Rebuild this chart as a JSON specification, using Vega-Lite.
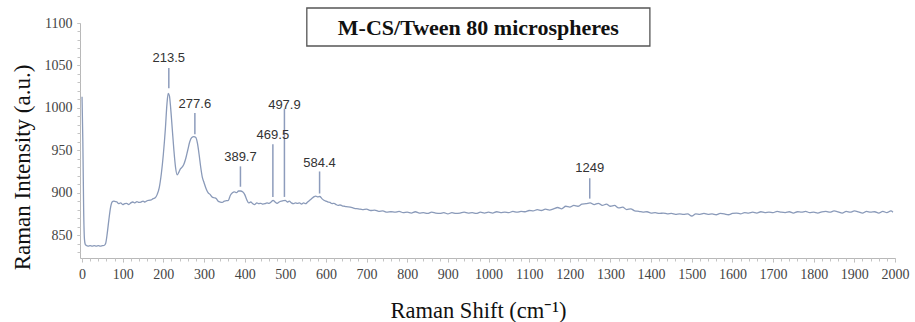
{
  "$schema": "https://vega.github.io/schema/vega-lite/v6.json",
  "autosize": "none",
  "width": 815,
  "height": 235,
  "padding": {"left": 80, "top": 23, "right": 20, "bottom": 64},
  "background": "white",
  "config": {"view": {"stroke": null}},
  "datasets": {
    "spectrum": [
      {"shift": 0, "intensity": 1013}, {"shift": 2, "intensity": 960}, {"shift": 4, "intensity": 880}, {"shift": 6, "intensity": 845}, {"shift": 8, "intensity": 839},
      {"shift": 10, "intensity": 838}, {"shift": 15, "intensity": 837}, {"shift": 20, "intensity": 837.5}, {"shift": 25, "intensity": 837}, {"shift": 30, "intensity": 837.5},
      {"shift": 35, "intensity": 837}, {"shift": 40, "intensity": 837.5}, {"shift": 45, "intensity": 837}, {"shift": 50, "intensity": 837.5}, {"shift": 55, "intensity": 838},
      {"shift": 58, "intensity": 840}, {"shift": 62, "intensity": 852}, {"shift": 66, "intensity": 868}, {"shift": 70, "intensity": 882}, {"shift": 74, "intensity": 889},
      {"shift": 78, "intensity": 890}, {"shift": 82, "intensity": 889.5}, {"shift": 86, "intensity": 889}, {"shift": 90, "intensity": 887}, {"shift": 95, "intensity": 888},
      {"shift": 100, "intensity": 886}, {"shift": 105, "intensity": 887}, {"shift": 110, "intensity": 887.5}, {"shift": 115, "intensity": 886}, {"shift": 120, "intensity": 888},
      {"shift": 125, "intensity": 889}, {"shift": 130, "intensity": 888}, {"shift": 135, "intensity": 889.5}, {"shift": 140, "intensity": 888.5}, {"shift": 145, "intensity": 889},
      {"shift": 150, "intensity": 890}, {"shift": 155, "intensity": 889}, {"shift": 160, "intensity": 890.5}, {"shift": 165, "intensity": 891}, {"shift": 170, "intensity": 891.5},
      {"shift": 175, "intensity": 893}, {"shift": 180, "intensity": 894}, {"shift": 185, "intensity": 898}, {"shift": 190, "intensity": 906}, {"shift": 195, "intensity": 922},
      {"shift": 200, "intensity": 945}, {"shift": 205, "intensity": 975}, {"shift": 209, "intensity": 1005}, {"shift": 212, "intensity": 1017}, {"shift": 215, "intensity": 1014},
      {"shift": 218, "intensity": 1000}, {"shift": 222, "intensity": 975}, {"shift": 226, "intensity": 950}, {"shift": 230, "intensity": 930}, {"shift": 234, "intensity": 921},
      {"shift": 238, "intensity": 924}, {"shift": 242, "intensity": 928}, {"shift": 246, "intensity": 930}, {"shift": 250, "intensity": 933}, {"shift": 255, "intensity": 940},
      {"shift": 260, "intensity": 950}, {"shift": 265, "intensity": 960}, {"shift": 270, "intensity": 965}, {"shift": 275, "intensity": 966}, {"shift": 280, "intensity": 965},
      {"shift": 284, "intensity": 958}, {"shift": 288, "intensity": 945}, {"shift": 292, "intensity": 930}, {"shift": 296, "intensity": 918}, {"shift": 300, "intensity": 912},
      {"shift": 305, "intensity": 905}, {"shift": 310, "intensity": 900}, {"shift": 315, "intensity": 898}, {"shift": 320, "intensity": 895}, {"shift": 325, "intensity": 894},
      {"shift": 330, "intensity": 893}, {"shift": 335, "intensity": 890}, {"shift": 340, "intensity": 889}, {"shift": 345, "intensity": 888.5}, {"shift": 350, "intensity": 890},
      {"shift": 355, "intensity": 890.5}, {"shift": 360, "intensity": 891}, {"shift": 365, "intensity": 897}, {"shift": 370, "intensity": 900}, {"shift": 375, "intensity": 901},
      {"shift": 380, "intensity": 900}, {"shift": 385, "intensity": 902}, {"shift": 390, "intensity": 902}, {"shift": 395, "intensity": 901}, {"shift": 400, "intensity": 898},
      {"shift": 405, "intensity": 892}, {"shift": 410, "intensity": 888}, {"shift": 415, "intensity": 889}, {"shift": 420, "intensity": 887}, {"shift": 425, "intensity": 886},
      {"shift": 430, "intensity": 888}, {"shift": 435, "intensity": 887}, {"shift": 440, "intensity": 887.5}, {"shift": 445, "intensity": 886.5}, {"shift": 450, "intensity": 887},
      {"shift": 455, "intensity": 888}, {"shift": 460, "intensity": 887.5}, {"shift": 465, "intensity": 889}, {"shift": 470, "intensity": 891}, {"shift": 475, "intensity": 889},
      {"shift": 480, "intensity": 887.5}, {"shift": 485, "intensity": 889}, {"shift": 490, "intensity": 890}, {"shift": 495, "intensity": 890.5}, {"shift": 500, "intensity": 891},
      {"shift": 505, "intensity": 889}, {"shift": 510, "intensity": 890}, {"shift": 515, "intensity": 888}, {"shift": 520, "intensity": 887}, {"shift": 525, "intensity": 888},
      {"shift": 530, "intensity": 887.5}, {"shift": 535, "intensity": 888}, {"shift": 540, "intensity": 886.5}, {"shift": 545, "intensity": 888}, {"shift": 550, "intensity": 887},
      {"shift": 555, "intensity": 889}, {"shift": 560, "intensity": 891}, {"shift": 565, "intensity": 893}, {"shift": 570, "intensity": 895}, {"shift": 575, "intensity": 896},
      {"shift": 580, "intensity": 895}, {"shift": 585, "intensity": 895.5}, {"shift": 590, "intensity": 893}, {"shift": 595, "intensity": 891}, {"shift": 600, "intensity": 890},
      {"shift": 605, "intensity": 889}, {"shift": 610, "intensity": 888.5}, {"shift": 615, "intensity": 887}, {"shift": 620, "intensity": 887.5}, {"shift": 625, "intensity": 886},
      {"shift": 630, "intensity": 885}, {"shift": 635, "intensity": 885.5}, {"shift": 640, "intensity": 884.5}, {"shift": 645, "intensity": 884}, {"shift": 650, "intensity": 883.5},
      {"shift": 660, "intensity": 883}, {"shift": 670, "intensity": 881.5}, {"shift": 680, "intensity": 881}, {"shift": 690, "intensity": 880}, {"shift": 700, "intensity": 880.5},
      {"shift": 710, "intensity": 879}, {"shift": 720, "intensity": 879.5}, {"shift": 730, "intensity": 878}, {"shift": 740, "intensity": 878.5}, {"shift": 750, "intensity": 877},
      {"shift": 760, "intensity": 877.5}, {"shift": 770, "intensity": 877}, {"shift": 780, "intensity": 878}, {"shift": 790, "intensity": 876.5}, {"shift": 800, "intensity": 877},
      {"shift": 810, "intensity": 876}, {"shift": 820, "intensity": 877.5}, {"shift": 830, "intensity": 876}, {"shift": 840, "intensity": 876.5}, {"shift": 850, "intensity": 875.5},
      {"shift": 860, "intensity": 877}, {"shift": 870, "intensity": 876}, {"shift": 880, "intensity": 875.5}, {"shift": 890, "intensity": 876.5}, {"shift": 900, "intensity": 875},
      {"shift": 910, "intensity": 876.5}, {"shift": 920, "intensity": 875.5}, {"shift": 930, "intensity": 876}, {"shift": 940, "intensity": 877}, {"shift": 950, "intensity": 876},
      {"shift": 960, "intensity": 876.5}, {"shift": 970, "intensity": 875.5}, {"shift": 980, "intensity": 877}, {"shift": 990, "intensity": 876}, {"shift": 1000, "intensity": 877},
      {"shift": 1010, "intensity": 876}, {"shift": 1020, "intensity": 877.5}, {"shift": 1030, "intensity": 876.5}, {"shift": 1040, "intensity": 877}, {"shift": 1050, "intensity": 876.5},
      {"shift": 1060, "intensity": 878}, {"shift": 1070, "intensity": 877}, {"shift": 1080, "intensity": 878}, {"shift": 1090, "intensity": 877.5}, {"shift": 1100, "intensity": 879},
      {"shift": 1110, "intensity": 878.5}, {"shift": 1120, "intensity": 880}, {"shift": 1130, "intensity": 879}, {"shift": 1140, "intensity": 880.5}, {"shift": 1150, "intensity": 879.5},
      {"shift": 1160, "intensity": 881}, {"shift": 1170, "intensity": 882.5}, {"shift": 1180, "intensity": 881}, {"shift": 1190, "intensity": 884}, {"shift": 1200, "intensity": 883},
      {"shift": 1210, "intensity": 885}, {"shift": 1220, "intensity": 884}, {"shift": 1230, "intensity": 886.5}, {"shift": 1240, "intensity": 887}, {"shift": 1250, "intensity": 888},
      {"shift": 1260, "intensity": 886}, {"shift": 1270, "intensity": 887.5}, {"shift": 1280, "intensity": 885}, {"shift": 1290, "intensity": 886.5}, {"shift": 1300, "intensity": 884},
      {"shift": 1310, "intensity": 885}, {"shift": 1320, "intensity": 882}, {"shift": 1330, "intensity": 883}, {"shift": 1340, "intensity": 880}, {"shift": 1350, "intensity": 881},
      {"shift": 1360, "intensity": 878.5}, {"shift": 1370, "intensity": 878}, {"shift": 1380, "intensity": 877}, {"shift": 1390, "intensity": 877.5}, {"shift": 1400, "intensity": 876},
      {"shift": 1410, "intensity": 876.5}, {"shift": 1420, "intensity": 875.5}, {"shift": 1430, "intensity": 876}, {"shift": 1440, "intensity": 875}, {"shift": 1450, "intensity": 875.5},
      {"shift": 1460, "intensity": 874.5}, {"shift": 1470, "intensity": 875}, {"shift": 1480, "intensity": 874.5}, {"shift": 1490, "intensity": 875}, {"shift": 1500, "intensity": 872.5},
      {"shift": 1510, "intensity": 875}, {"shift": 1520, "intensity": 874.5}, {"shift": 1530, "intensity": 875.5}, {"shift": 1540, "intensity": 874.5}, {"shift": 1550, "intensity": 875},
      {"shift": 1560, "intensity": 874}, {"shift": 1570, "intensity": 875.5}, {"shift": 1580, "intensity": 875}, {"shift": 1590, "intensity": 874}, {"shift": 1600, "intensity": 875.5},
      {"shift": 1610, "intensity": 876}, {"shift": 1620, "intensity": 875}, {"shift": 1630, "intensity": 876.5}, {"shift": 1640, "intensity": 876}, {"shift": 1650, "intensity": 877},
      {"shift": 1660, "intensity": 876}, {"shift": 1670, "intensity": 877.5}, {"shift": 1680, "intensity": 876.5}, {"shift": 1690, "intensity": 877}, {"shift": 1700, "intensity": 876.5},
      {"shift": 1710, "intensity": 878}, {"shift": 1720, "intensity": 877}, {"shift": 1730, "intensity": 876.5}, {"shift": 1740, "intensity": 877.5}, {"shift": 1750, "intensity": 876},
      {"shift": 1760, "intensity": 877.5}, {"shift": 1770, "intensity": 877}, {"shift": 1780, "intensity": 878}, {"shift": 1790, "intensity": 876.5}, {"shift": 1800, "intensity": 877},
      {"shift": 1810, "intensity": 876}, {"shift": 1820, "intensity": 877.5}, {"shift": 1830, "intensity": 878}, {"shift": 1840, "intensity": 877}, {"shift": 1850, "intensity": 878.5},
      {"shift": 1860, "intensity": 877.5}, {"shift": 1870, "intensity": 876}, {"shift": 1880, "intensity": 878}, {"shift": 1890, "intensity": 877}, {"shift": 1900, "intensity": 878.5},
      {"shift": 1910, "intensity": 877.5}, {"shift": 1920, "intensity": 876}, {"shift": 1930, "intensity": 878}, {"shift": 1940, "intensity": 877}, {"shift": 1950, "intensity": 877.5},
      {"shift": 1960, "intensity": 876}, {"shift": 1970, "intensity": 878}, {"shift": 1980, "intensity": 876.5}, {"shift": 1990, "intensity": 878.5}, {"shift": 1995, "intensity": 877}
    ],
    "peaks": [
      {"shift": 213.5, "label": "213.5", "labelAt": 1058.7, "top": 1047, "bottom": 1023},
      {"shift": 277.6, "label": "277.6", "labelAt": 1004.5, "top": 994, "bottom": 969},
      {"shift": 389.7, "label": "389.7", "labelAt": 942, "top": 931, "bottom": 907},
      {"shift": 469.5, "label": "469.5", "labelAt": 968, "top": 957, "bottom": 895},
      {"shift": 497.9, "label": "497.9", "labelAt": 1003, "top": 999, "bottom": 895},
      {"shift": 584.4, "label": "584.4", "labelAt": 935, "top": 925, "bottom": 899},
      {"shift": 1249, "label": "1249", "labelAt": 928.6, "top": 917, "bottom": 893}
    ],
    "caption": [
      {"x1": 553, "x2": 1397, "y1": 1117.7, "y2": 1072.9, "xm": 975, "ym": 1094, "text": "M-CS/Tween 80 microspheres"}
    ]
  },
  "resolve": {"axis": {"x": "independent", "y": "independent"}},
  "layer": [
    {
      "data": {"name": "spectrum"},
      "mark": {"type": "line", "color": "#8a9ab9", "strokeWidth": 1.3, "interpolate": "monotone"},
      "encoding": {
        "x": {
          "field": "shift", "type": "quantitative",
          "scale": {"domain": [-5, 2000], "nice": false, "zero": false},
          "axis": {
            "orient": "bottom",
            "values": [0, 100, 200, 300, 400, 500, 600, 700, 800, 900, 1000, 1100, 1200, 1300, 1400, 1500, 1600, 1700, 1800, 1900, 2000],
            "format": "d", "grid": false, "labelFlush": false, "labelOverlap": false,
            "labelFont": "Liberation Serif", "labelFontSize": 14, "labelColor": "#444", "labelPadding": 5,
            "domainColor": "#b8b8b8", "tickColor": "#b8b8b8", "tickSize": 4,
            "title": "Raman Shift (cm⁻¹)",
            "titleFont": "Liberation Serif", "titleFontSize": 22.5, "titleFontWeight": "normal", "titleColor": "#111",
            "titleX": 398, "titleY": 52, "titleAlign": "center", "titleBaseline": "middle"
          }
        },
        "y": {
          "field": "intensity", "type": "quantitative",
          "scale": {"domain": [823, 1100], "nice": false, "zero": false},
          "axis": {
            "orient": "left",
            "values": [850, 900, 950, 1000, 1050, 1100],
            "format": "d", "grid": false, "labelFlush": false, "labelOverlap": false,
            "labelFont": "Liberation Serif", "labelFontSize": 14, "labelColor": "#444", "labelPadding": 5,
            "domainColor": "#b8b8b8", "tickColor": "#b8b8b8", "tickSize": 3,
            "title": "Raman Intensity (a.u.)",
            "titleFont": "Liberation Serif", "titleFontSize": 23, "titleFontWeight": "normal", "titleColor": "#111",
            "titleAngle": 270, "titleX": -58, "titleY": 144, "titleAlign": "center", "titleBaseline": "middle"
          }
        }
      }
    },
    {
      "data": {"name": "peaks"},
      "mark": {"type": "rule", "color": "#8d9cbc", "strokeWidth": 1.5},
      "encoding": {
        "x": {
          "field": "shift", "type": "quantitative",
          "axis": {
            "orient": "bottom",
            "values": [0, 20, 40, 60, 80, 100, 120, 140, 160, 180, 200, 220, 240, 260, 280, 300, 320, 340, 360, 380, 400, 420, 440, 460, 480, 500, 520, 540, 560, 580, 600, 620, 640, 660, 680, 700, 720, 740, 760, 780, 800, 820, 840, 860, 880, 900, 920, 940, 960, 980, 1000, 1020, 1040, 1060, 1080, 1100, 1120, 1140, 1160, 1180, 1200, 1220, 1240, 1260, 1280, 1300, 1320, 1340, 1360, 1380, 1400, 1420, 1440, 1460, 1480, 1500, 1520, 1540, 1560, 1580, 1600, 1620, 1640, 1660, 1680, 1700, 1720, 1740, 1760, 1780, 1800, 1820, 1840, 1860, 1880, 1900, 1920, 1940, 1960, 1980, 2000],
            "labels": false, "domain": false, "grid": false, "title": null,
            "tickColor": "#c4c4c4", "tickSize": 3
          }
        },
        "y": {
          "field": "top", "type": "quantitative",
          "axis": {
            "orient": "left",
            "values": [830, 840, 850, 860, 870, 880, 890, 900, 910, 920, 930, 940, 950, 960, 970, 980, 990, 1000, 1010, 1020, 1030, 1040, 1050, 1060, 1070, 1080, 1090, 1100],
            "labels": false, "domain": false, "grid": false, "title": null,
            "tickColor": "#c4c4c4", "tickSize": 3
          }
        },
        "y2": {"field": "bottom"}
      }
    },
    {
      "data": {"name": "peaks"},
      "mark": {"type": "text", "font": "Liberation Sans", "fontSize": 13, "color": "#333", "baseline": "middle", "align": "center"},
      "encoding": {
        "x": {"field": "shift", "type": "quantitative", "axis": null},
        "y": {"field": "labelAt", "type": "quantitative", "axis": null},
        "text": {"field": "label", "type": "nominal"}
      }
    },
    {
      "data": {"name": "caption"},
      "mark": {"type": "rect", "fill": "white", "stroke": "#555", "strokeWidth": 1.3},
      "encoding": {
        "x": {"field": "x1", "type": "quantitative", "axis": null},
        "x2": {"field": "x2"},
        "y": {"field": "y1", "type": "quantitative", "axis": null},
        "y2": {"field": "y2"}
      }
    },
    {
      "data": {"name": "caption"},
      "mark": {"type": "text", "font": "Liberation Serif", "fontSize": 22, "fontWeight": "bold", "color": "#111", "baseline": "middle", "align": "center"},
      "encoding": {
        "x": {"field": "xm", "type": "quantitative", "axis": null},
        "y": {"field": "ym", "type": "quantitative", "axis": null},
        "text": {"field": "text", "type": "nominal"}
      }
    }
  ]
}
